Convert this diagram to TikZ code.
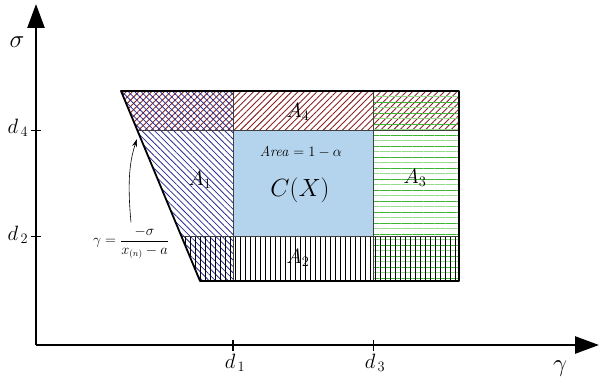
\documentclass[tikz,border=0pt]{standalone}
\usepackage{amsmath}
\usetikzlibrary{positioning,arrows.meta,patterns.meta}

\definecolor{hatchred}{RGB}{135,35,35}
\definecolor{hatchblue}{RGB}{45,45,145}
\definecolor{hatchgreen}{RGB}{60,180,50}
\definecolor{lightgreen}{RGB}{150,220,140}
\definecolor{ciblue}{RGB}{180,211,236}

\tikzset{
  redhatch/.style={pattern={Lines[angle=45,distance=4.5pt,line width=0.9pt]},pattern color=hatchred},
  bluehatch/.style={pattern={Lines[angle=-45,distance=4.5pt,line width=0.8pt]},pattern color=hatchblue},
  greenhatch/.style={pattern={Lines[angle=0,distance=11pt,line width=0.9pt]},pattern color=hatchgreen},
  lgreenhatch/.style={pattern={Lines[angle=0,distance=11pt,yshift=5.5pt,line width=1.2pt]},pattern color=lightgreen},
  blackhatch/.style={pattern={Lines[angle=90,distance=5pt,line width=0.6pt]},pattern color=black},
  axis/.style={line width=2.6pt,-{Triangle[length=24pt,width=17pt]}},
  inner/.style={line width=0.7pt,black!75},
  outer/.style={line width=1.8pt,line join=round},
  ticklab/.style={font=\fontsize{20}{24}\selectfont},
  area/.style={font=\fontsize{20}{24}\selectfont}
}

\begin{document}
\begin{tikzpicture}[x=1pt,y=-1pt]
  \useasboundingbox (0,0) rectangle (599,377);

  % corners of the region
  \coordinate (TL) at (121,91);   \coordinate (T1) at (233,91);
  \coordinate (T3) at (373,91);   \coordinate (TR) at (459,91);
  \coordinate (L4) at (137.2,130); \coordinate (M14) at (233,130);
  \coordinate (M34) at (373,130); \coordinate (R4) at (459,130);
  \coordinate (L2) at (181.3,236); \coordinate (M12) at (233,236);
  \coordinate (M32) at (373,236); \coordinate (R2) at (459,236);
  \coordinate (BL) at (200,281);  \coordinate (B1) at (233,281);
  \coordinate (B3) at (373,281);  \coordinate (BR) at (459,281);

  % hatched parts
  \fill[redhatch] (TL) -- (TR) -- (R4) -- (L4) -- cycle;
  \fill[bluehatch] (TL) -- (T1) -- (B1) -- (BL) -- cycle;
  \fill[greenhatch] (T3) -- (TR) -- (BR) -- (B3) -- cycle;
  \fill[lgreenhatch] (T3) -- (TR) -- (BR) -- (B3) -- cycle;
  \fill[blackhatch] (L2) -- (R2) -- (BR) -- (BL) -- cycle;
  \fill[ciblue] (M14) rectangle (M32);

  % grid lines
  \draw[inner] (L4) -- (R4);
  \draw[inner] (L2) -- (R2);
  \draw[inner] (T1) -- (B1);
  \draw[inner] (T3) -- (B3);
  \draw[outer] (TL) -- (TR) -- (BR) -- (BL) -- cycle;

  % axes
  \coordinate (O) at (36,345);
  \coordinate (ytip) at (36,4);
  \coordinate (xtip) at (599,345);
  \draw[axis] (O) -- (ytip);
  \draw[axis] (O) -- (xtip);
  \node[font=\fontsize{26}{30}\selectfont] (sig) at (17,42) {$\sigma$};
  \node[font=\fontsize{26}{30}\selectfont] (gam) at (560,369) {$\gamma$};

  % ticks
  \draw[line width=0.8pt] (31,130) -- (41,130);
  \draw[line width=0.8pt] (31,236) -- (41,236);
  \draw[line width=1.2pt] (233,340) -- (233,351);
  \draw[line width=0.6pt] (373,340) -- (373,351);
  \node[ticklab] (d4) at (18,128) {$d_{\,4}$};
  \node[ticklab] (d2) at (18,235) {$d_{\,2}$};
  \node[ticklab] (d1) at (235,363) {$d_{\,1}$};
  \node[ticklab] (d3) at (375,363) {$d_{\,3}$};

  % labels of the parts
  \node[area] (a4) at (298,112) {$A_4$};
  \node[area] (a1) at (200,180) {$A_1$};
  \node[area] (a3) at (415,178) {$A_3$};
  \node[area] (a2) at (298,258) {$A_2$};
  \node[font=\fontsize{14}{17}\selectfont] (ar) at (301,152) {$\mathit{Area}=1-\alpha$};
  \node[font=\fontsize{44}{50}\selectfont] (cx) at (300,190) {$C(X)$};

  % boundary line
  \node[font=\fontsize{13.5}{16}\selectfont] (gform) at (131,243) {$\gamma=\dfrac{-\sigma}{x_{(n)}-a}$};
  \coordinate (hit) at (137,139);
  \draw[line width=0.6pt,-{Stealth[length=8pt,width=5pt]}]
    ([yshift=1pt]gform.north) .. controls (127,180) and (130,160) .. (hit);
\end{tikzpicture}
\end{document}
